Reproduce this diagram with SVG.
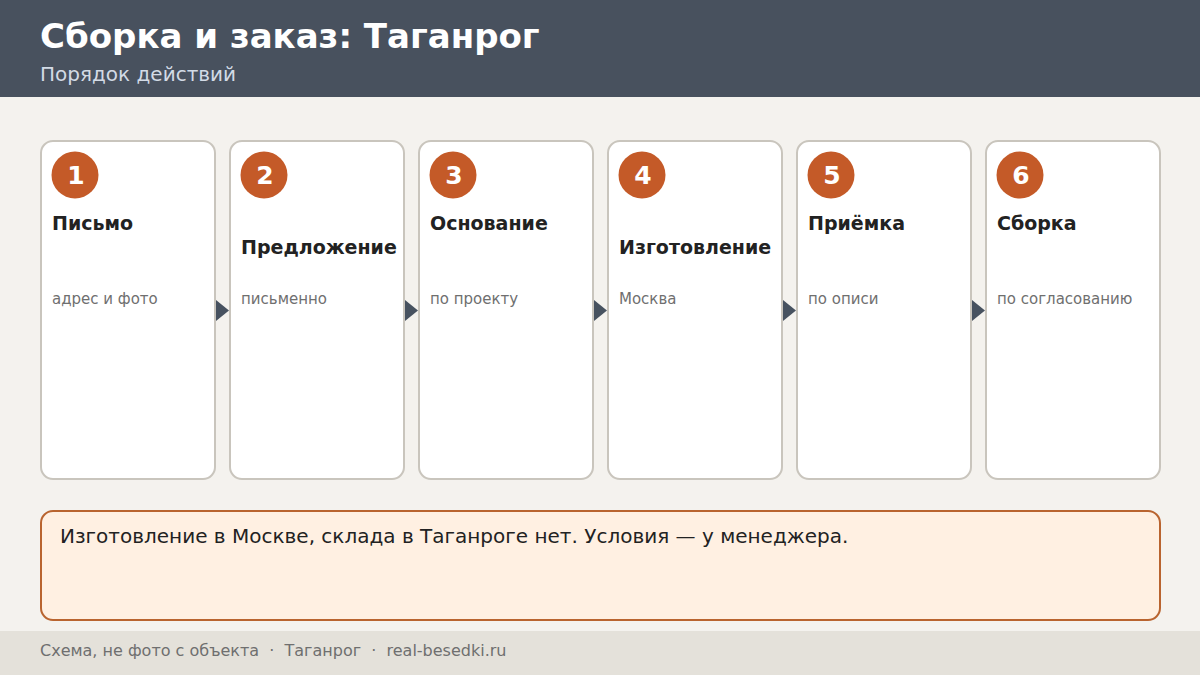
<svg xmlns="http://www.w3.org/2000/svg" width="1200" height="675" viewBox="0 0 1200 675">
<style>
text{font-family:"DejaVu Sans","Noto Sans",sans-serif}
.card{fill:#ffffff;stroke:#c9c5bd;stroke-width:2}
.num{fill:#c45a28}
.numt{fill:#ffffff;font-weight:bold;font-size:25px;text-anchor:middle}
.ttl{fill:#222222;font-weight:bold;font-size:19px}
.sub{fill:#6f6f6f;font-size:15px}
.arr{fill:#475260}
</style>
<rect x="0" y="0" width="1200" height="675" fill="#f4f2ee"/>
<g id="header">
<rect x="0" y="0" width="1200" height="97" fill="#48515e"/>
<text x="40" y="48" fill="#ffffff" font-size="34" font-weight="bold">Сборка и заказ: Таганрог</text>
<text x="40" y="81" fill="#d3dbe6" font-size="20">Порядок действий</text>
</g>
<g id="connectors">
<polygon class="arr" points="216,300 229,310.5 216,321"/>
<polygon class="arr" points="405,300 418,310.5 405,321"/>
<polygon class="arr" points="594,300 607,310.5 594,321"/>
<polygon class="arr" points="783,300 796,310.5 783,321"/>
<polygon class="arr" points="972,300 985,310.5 972,321"/>
</g>
<g id="step1">
<rect class="card" x="41" y="141" width="174" height="338" rx="12"/>
<circle class="num" cx="75" cy="175" r="23.5"/>
<text class="numt" x="76" y="184">1</text>
<text class="ttl" x="52" y="230">Письмо</text>
<text class="sub" x="52" y="304">адрес и фото</text>
</g>
<g id="step2">
<rect class="card" x="230" y="141" width="174" height="338" rx="12"/>
<circle class="num" cx="264" cy="175" r="23.5"/>
<text class="numt" x="265" y="184">2</text>
<text class="ttl" x="241" y="254">Предложение</text>
<text class="sub" x="241" y="304">письменно</text>
</g>
<g id="step3">
<rect class="card" x="419" y="141" width="174" height="338" rx="12"/>
<circle class="num" cx="453" cy="175" r="23.5"/>
<text class="numt" x="454" y="184">3</text>
<text class="ttl" x="430" y="230">Основание</text>
<text class="sub" x="430" y="304">по проекту</text>
</g>
<g id="step4">
<rect class="card" x="608" y="141" width="174" height="338" rx="12"/>
<circle class="num" cx="642" cy="175" r="23.5"/>
<text class="numt" x="643" y="184">4</text>
<text class="ttl" x="619" y="254">Изготовление</text>
<text class="sub" x="619" y="304">Москва</text>
</g>
<g id="step5">
<rect class="card" x="797" y="141" width="174" height="338" rx="12"/>
<circle class="num" cx="831" cy="175" r="23.5"/>
<text class="numt" x="832" y="184">5</text>
<text class="ttl" x="808" y="230">Приёмка</text>
<text class="sub" x="808" y="304">по описи</text>
</g>
<g id="step6">
<rect class="card" x="986" y="141" width="174" height="338" rx="12"/>
<circle class="num" cx="1020" cy="175" r="23.5"/>
<text class="numt" x="1021" y="184">6</text>
<text class="ttl" x="997" y="230">Сборка</text>
<text class="sub" x="997" y="304">по согласованию</text>
</g>
<g id="note">
<rect x="41" y="511" width="1119" height="109" rx="12" fill="#fff0e2" stroke="#b9642f" stroke-width="2"/>
<text x="60" y="543" fill="#222222" font-size="20">Изготовление в Москве, склада в Таганроге нет. Условия — у менеджера.</text>
</g>
<g id="footer">
<rect x="0" y="631" width="1200" height="44" fill="#e4e1da"/>
<text x="40" y="656" fill="#6f6f6f" font-size="16" xml:space="preserve">Схема, не фото с объекта  ·  Таганрог  ·  real-besedki.ru</text>
</g>
</svg>
